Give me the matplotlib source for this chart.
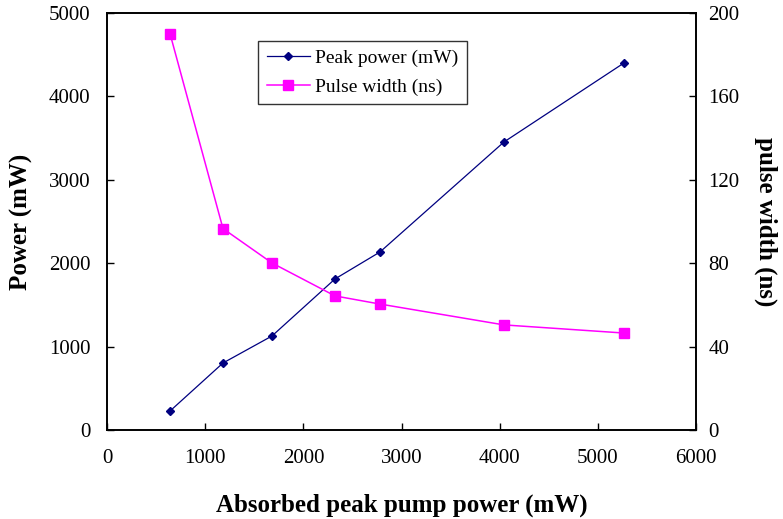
import numpy as np
import matplotlib.pyplot as plt

plt.rcParams['font.family'] = ['Liberation Serif', 'DejaVu Serif']

# data
pump = [642, 1181, 1680, 2322, 2780, 4043, 5265]
peak_power = [228, 803, 1127, 1811, 2134, 3453, 4400]
pulse_width = [190, 96.6, 80.1, 64.3, 60.4, 50.4, 46.5]

fig = plt.figure(figsize=(7.83, 5.19), dpi=100)
ax1 = fig.add_axes([0.1367, 0.1715, 0.7523, 0.8035])
ax2 = ax1.twinx()

l1, = ax1.plot(pump, peak_power, color='#000080', linewidth=0.9, marker='D',
               markersize=4, label='Peak power (mW)')
l2, = ax2.plot(pump, pulse_width, color='#ff00ff', linewidth=1.1, marker='s',
               markersize=6.5, label='Pulse width (ns)')

ax1.set_xlim(0, 6000)
ax1.set_ylim(0, 5000)
ax2.set_ylim(0, 200)
ax1.set_xticks(np.arange(0, 6001, 1000))
ax1.set_yticks(np.arange(0, 5001, 1000))
ax2.set_yticks(np.arange(0, 201, 40))

for a in (ax1, ax2):
    a.tick_params(direction='in', length=5, labelsize=15, width=1)
    for s in a.spines.values():
        s.set_linewidth(1.2)
ax1.tick_params(axis='x', pad=14)
ax1.tick_params(axis='y', pad=12)
ax2.tick_params(axis='y', pad=9)

ax1.set_xlabel('Absorbed peak pump power (mW)', fontsize=18, fontweight='bold', labelpad=18)
ax1.set_ylabel('Power (mW)', fontsize=18, fontweight='bold', labelpad=11)
ax2.set_ylabel('pulse width (ns)', fontsize=18, fontweight='bold', rotation=270, labelpad=27)

leg = ax1.legend(handles=[l1, l2], loc='upper left', bbox_to_anchor=(0.2564, 0.933),
                 borderaxespad=0, fontsize=14, frameon=True, fancybox=False,
                 edgecolor='black', handlelength=2.2, borderpad=0.45,
                 labelspacing=0.55, handletextpad=0.3)
leg.get_frame().set_linewidth(1.0)

plt.savefig('out.png', dpi=100)
